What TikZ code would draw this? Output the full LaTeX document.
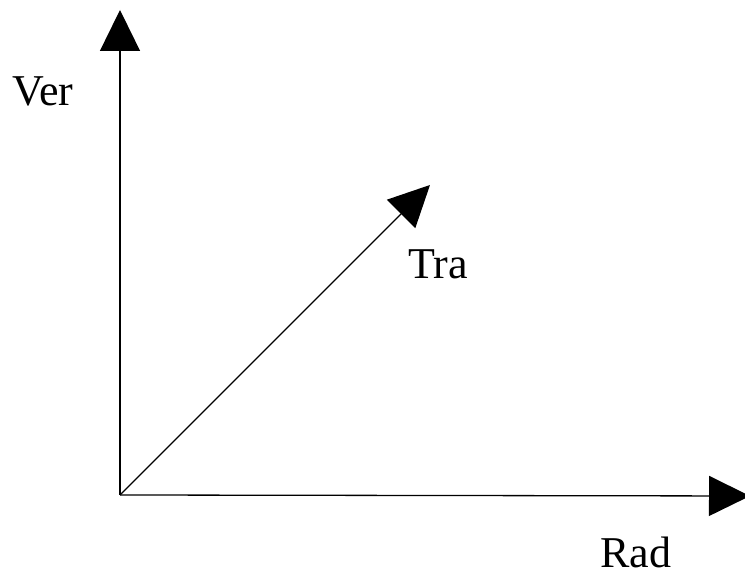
\documentclass[tikz,border=0pt]{standalone}
\usepackage{fontspec}
\setmainfont{Liberation Serif}
\usetikzlibrary{arrows.meta}
\begin{document}
\begin{tikzpicture}[x=1pt,y=1pt,
  axis/.style={line width=1.3pt,-{Triangle[length=41pt,width=40pt]}},
  lbl/.style={inner sep=0pt,anchor=base west,font=\fontsize{44}{50}\selectfont}]
\useasboundingbox (0,0) rectangle (745,577);
\coordinate (O) at (120,82);
\coordinate (V) at (120,567);
\coordinate (R) at (750,81);
\coordinate (T) at (430,392);
\draw[axis] (O) -- (V);
\draw[axis] (O) -- (R);
\draw[axis] (O) -- (T);
\node[lbl] (ver) at (12,471) {Ver};
\node[lbl] (tra) at (408,298) {Tra};
\node[lbl] (rad) at (600,9) {Rad};
\end{tikzpicture}
\end{document}
